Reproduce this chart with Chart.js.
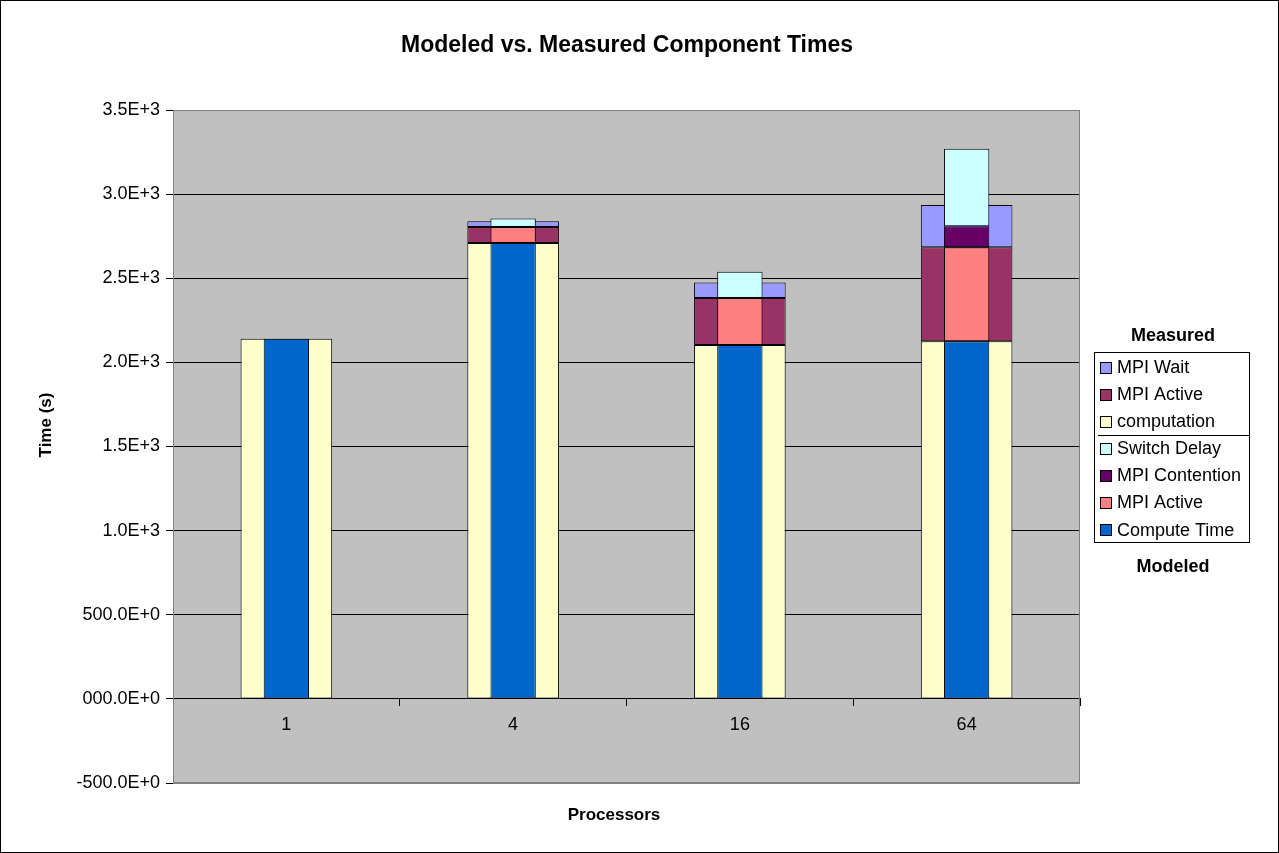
<!DOCTYPE html>
<html>
<head>
<meta charset="utf-8">
<script src="https://cdn.jsdelivr.net/npm/chart.js@4.4.1/dist/chart.umd.min.js"></script>
<style>
  html, body { margin: 0; padding: 0; background: #ffffff; }
  #wrap { width: 1279px; height: 853px; position: relative; }
  canvas { display: block; }
</style>
</head>
<body>
<div id="wrap"><canvas id="chart" width="1279" height="853"></canvas></div>
<script>
// Processor counts on the category axis
const processors = ['1', '4', '16', '64'];

// Measured component times (s)
const measComputation = [2140, 2710, 2103, 2126];
const measMpiActive   = [0, 95, 280, 558];
const measMpiWait     = [0, 34, 92, 251];

// Modeled component times (s)
const modCompute      = [2140, 2710, 2103, 2126];
const modMpiActive    = [0, 95, 280, 558];
const modContention   = [0, 0, 0, 125];
const modSwitchDelay  = [0, 50, 155, 461];

// Value-axis tick labels (scientific style)
const yTickValues = [-500, 0, 500, 1000, 1500, 2000, 2500, 3000, 3500];
const yTickLabels = ['-500.0E+0', '000.0E+0', '500.0E+0', '1.0E+3', '1.5E+3', '2.0E+3', '2.5E+3', '3.0E+3', '3.5E+3'];

const FONT = '"Liberation Sans", Arial, sans-serif';
Chart.defaults.font.family = FONT;
Chart.defaults.color = '#000000';

// Measured stack is wide and sits behind; modeled stack is narrow and in front
function bar(label, data, color, stack, order) {
  return {
    label, data,
    backgroundColor: color,
    borderColor: '#000000',
    borderWidth: 1,
    borderSkipped: false,
    stack,
    order,
    grouped: false,
    categoryPercentage: 1.0,
    barPercentage: stack === 'measured' ? 0.404 : 0.2
  };
}

const datasets = [
  bar('computation',     measComputation, '#FFFFCC', 'measured', 2),
  bar('MPI Active',      measMpiActive,   '#993366', 'measured', 2),
  bar('MPI Wait',        measMpiWait,     '#9999FF', 'measured', 2),
  bar('Compute Time',    modCompute,      '#0066CC', 'modeled', 1),
  bar('MPI Active',      modMpiActive,    '#FF8080', 'modeled', 1),
  bar('MPI Contention',  modContention,   '#660066', 'modeled', 1),
  bar('Switch Delay',    modSwitchDelay,  '#CCFFFF', 'modeled', 1)
];

// Page background, outer frame and grey plot area
const frame = {
  id: 'frame',
  beforeDraw(chart) {
    const { ctx, chartArea: a, width, height } = chart;
    ctx.save();
    ctx.fillStyle = '#ffffff';
    ctx.fillRect(0, 0, width, height);
    ctx.strokeStyle = '#000000';
    ctx.lineWidth = 1;
    ctx.strokeRect(0.5, 0.5, width - 1, height - 1);
    ctx.fillStyle = '#C0C0C0';
    ctx.fillRect(a.left, a.top, a.right - a.left, a.bottom - a.top);
    ctx.restore();
  },
  afterDatasetsDraw(chart) {
    const { ctx, chartArea: a } = chart;
    ctx.save();
    ctx.strokeStyle = '#808080';
    ctx.lineWidth = 1;
    ctx.beginPath();
    ctx.moveTo(a.left, a.top + 0.5);
    ctx.lineTo(a.right - 0.5, a.top + 0.5);
    ctx.lineTo(a.right - 0.5, a.bottom - 0.5);
    ctx.lineTo(a.left, a.bottom - 0.5);
    ctx.stroke();
    ctx.restore();
  }
};

// Chart title and axis titles
const titles = {
  id: 'titles',
  afterDraw(chart) {
    const { ctx } = chart;
    ctx.save();
    ctx.fillStyle = '#000000';
    ctx.textAlign = 'center';
    ctx.textBaseline = 'middle';
    ctx.font = 'bold 23px ' + FONT;
    ctx.fillText('Modeled vs. Measured Component Times', 627, 46);
    ctx.font = 'bold 17px ' + FONT;
    ctx.fillText('Processors', 614, 815);
    ctx.translate(46, 425);
    ctx.rotate(-Math.PI / 2);
    ctx.fillText('Time (s)', 0, 0);
    ctx.restore();
  }
};

// Two-group legend: measured on top, modeled below, split by a rule
const groupedLegend = {
  id: 'groupedLegend',
  afterDraw(chart) {
    const { ctx } = chart;
    const ds = chart.data.datasets;
    const measured = [2, 1, 0].map(i => ds[i]);
    const modeled = [6, 5, 4, 3].map(i => ds[i]);
    const bx = 1094.5, by = 352.5, bw = 155, bh = 190;
    const y0 = 367, step = 27.1;
    ctx.save();
    ctx.fillStyle = '#ffffff';
    ctx.fillRect(bx, by, bw, bh);
    ctx.strokeStyle = '#000000';
    ctx.lineWidth = 1;
    ctx.strokeRect(bx, by, bw, bh);
    ctx.fillStyle = '#000000';
    ctx.textAlign = 'center';
    ctx.textBaseline = 'middle';
    ctx.font = 'bold 18px ' + FONT;
    ctx.fillText('Measured', 1173, 336);
    ctx.fillText('Modeled', 1173, 567);
    const rows = measured.concat(modeled);
    ctx.font = '18px ' + FONT;
    ctx.textAlign = 'left';
    rows.forEach((d, i) => {
      const cy = y0 + i * step;
      ctx.fillStyle = d.backgroundColor;
      ctx.fillRect(1100.5, Math.round(cy - 5.5) + 0.5, 11, 11);
      ctx.strokeStyle = '#000000';
      ctx.strokeRect(1100.5, Math.round(cy - 5.5) + 0.5, 11, 11);
      ctx.fillStyle = '#000000';
      ctx.fillText(d.label, 1117, cy + 1);
    });
    const sepY = Math.round(y0 + 2.5 * step) + 0.5;
    ctx.beginPath();
    ctx.moveTo(1098, sepY);
    ctx.lineTo(1250, sepY);
    ctx.stroke();
    ctx.restore();
  }
};

new Chart(document.getElementById('chart'), {
  type: 'bar',
  data: { labels: processors, datasets },
  options: {
    responsive: false,
    animation: false,
    devicePixelRatio: 1,
    layout: { padding: { left: 0, right: 199, top: 110, bottom: 70 } },
    plugins: {
      legend: { display: false },
      title: { display: false },
      tooltip: { enabled: false }
    },
    scales: {
      x: {
        type: 'category',
        position: { y: 0 },
        stacked: true,
        offset: true,
        grid: { drawOnChartArea: false, offset: true, tickLength: 7, color: '#000000', lineWidth: 1 },
        border: { color: '#000000', width: 1 },
        ticks: { font: { size: 18 }, color: '#000000', padding: 8, maxRotation: 0 }
      },
      y: {
        stacked: true,
        min: -500,
        max: 3500,
        afterBuildTicks(scale) {
          scale.ticks = yTickValues.map(v => ({ value: v }));
        },
        afterFit(scale) { scale.width = 173; },
        grid: {
          color: ctx => (ctx.tick && (ctx.tick.value === 3500 || ctx.tick.value === -500)) ? '#808080' : '#000000',
          tickColor: '#000000',
          tickLength: 7,
          lineWidth: 1
        },
        border: { color: '#808080', width: 1 },
        ticks: {
          font: { size: 18 },
          color: '#000000',
          padding: 6,
          callback: v => yTickLabels[yTickValues.indexOf(v)]
        }
      }
    }
  },
  plugins: [frame, titles, groupedLegend]
});
</script>
</body>
</html>
